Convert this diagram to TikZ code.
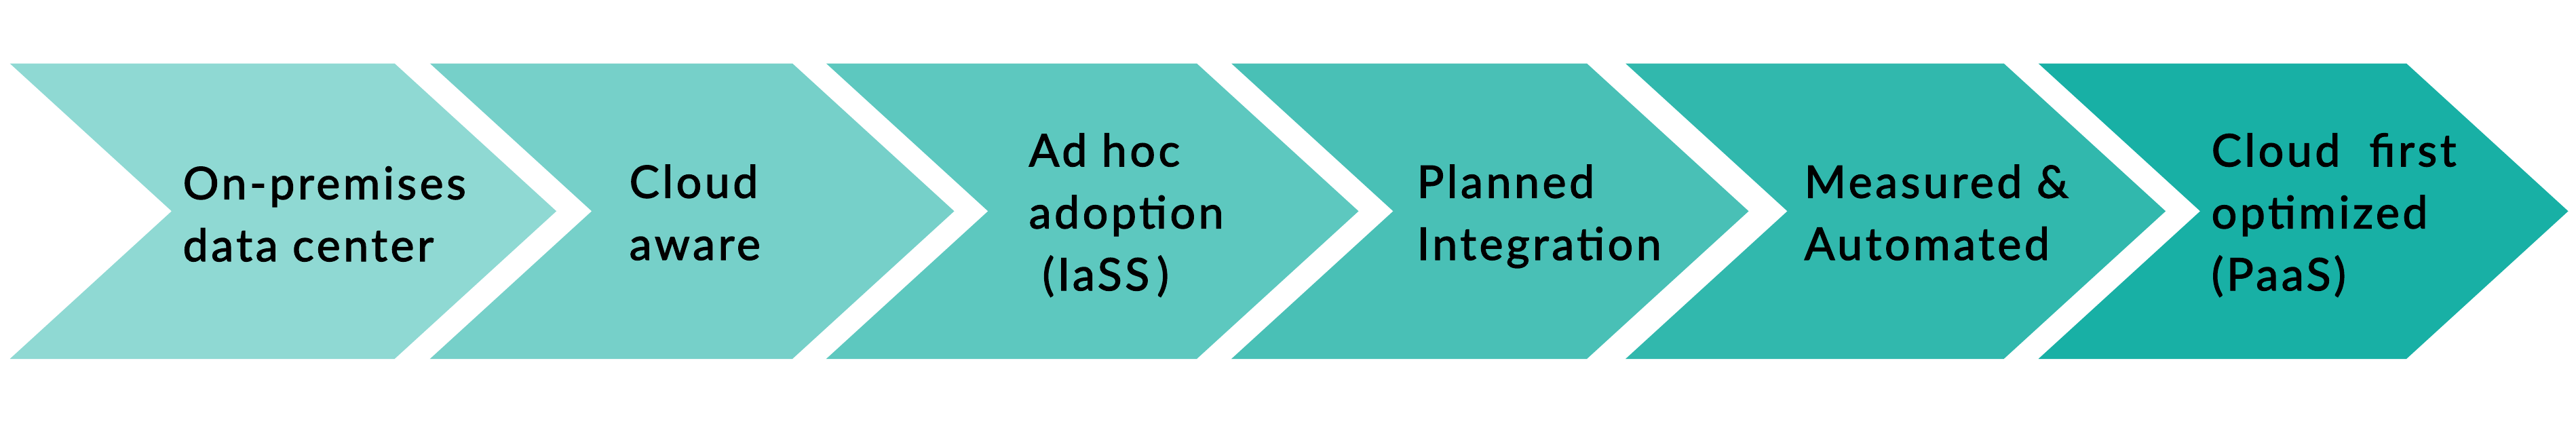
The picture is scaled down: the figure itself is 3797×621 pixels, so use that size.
\documentclass[tikz,border=0pt]{standalone}
\usepackage{fontspec}
\setmainfont{Lato}[BoldFont={Lato}, BoldFeatures={FakeBold=2}, LetterSpace=7]
\usepackage{tikz}

\definecolor{tealA}{HTML}{8FD9D3}
\definecolor{tealB}{HTML}{76D0C9}
\definecolor{tealC}{HTML}{5DC8BF}
\definecolor{tealD}{HTML}{49C0B6}
\definecolor{tealE}{HTML}{31B8AD}
\definecolor{tealF}{HTML}{18B0A5}

\begin{document}
\begin{tikzpicture}[x=0.01cm, y=-0.01cm,
  steplabel/.style={anchor=base west, align=left, inner sep=0pt,
    font=\fontsize{18.8}{26}\selectfont\bfseries}]
%frame
  \useasboundingbox (0,0) rectangle (3797,621);

%chevrons
  \foreach \l/\r/\c in {14.5/581.6/tealA, 633.7/1168/tealB, 1217.8/1764/tealC,
                        1815/2339/tealD, 2396/2953.6/tealE, 3004.5/3547/tealF}
    \fill[\c] (\l,93.5) -- (\r,93.5) -- (\r+238.5,311.25) -- (\r,529)
      -- (\l,529) -- (\l+238.5,311.25) -- cycle;

%labels (anchored at the baseline of the last line)
  \node[steplabel] (onprem) at (269,385) {On-premises\\data center};
  \node[steplabel] (aware) at (927,383) {Cloud\\aware};
  \node[steplabel] (adhoc) at (1516,428) {Ad hoc\\adoption\\\hspace*{0.3em}(IaSS\,)};
  \node[steplabel] (planned) at (2088,383) {Planned\\Integration};
  \node[steplabel] (measured) at (2659,383) {Measured \&\\Automated};
  \node[steplabel] (cloudfirst) at (3259,428) {Cloud\ \ first\\optimized\\(PaaS)};
\end{tikzpicture}
\end{document}
